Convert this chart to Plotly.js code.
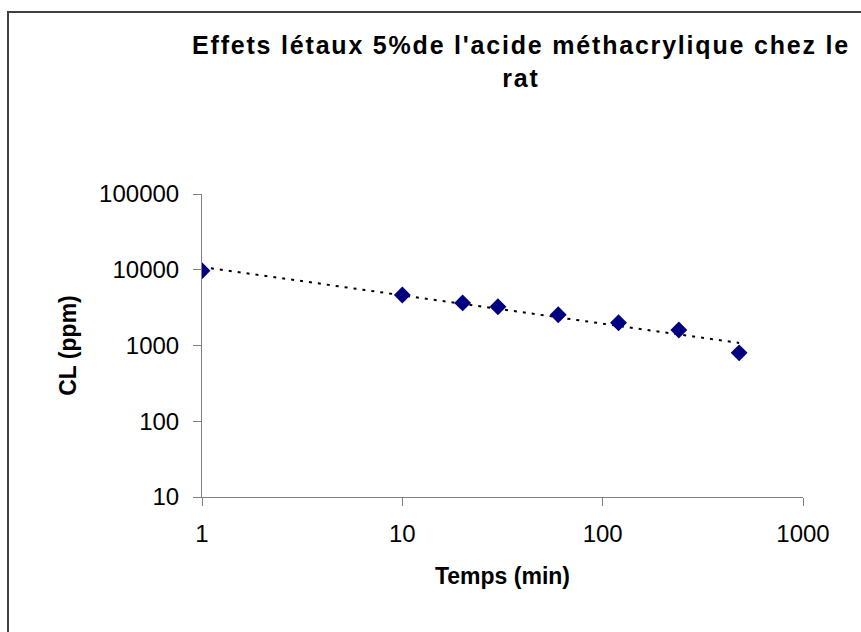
<!DOCTYPE html>
<html>
<head>
<meta charset="utf-8">
<script src="https://cdn.plot.ly/plotly-3.0.1.min.js"></script>
<style>
html,body{margin:0;padding:0;background:#fff;}
#chart{width:861px;height:632px;}
.gtitle{letter-spacing:1.8px;}
</style>
</head>
<body>
<div id="chart"></div>
<script>
// Data
const temps = [1, 10, 20, 30, 60, 120, 240, 480];          // min
const cl = [9700, 4650, 3650, 3250, 2550, 2000, 1600, 800]; // ppm

const xTicks = [1, 10, 100, 1000];
const xTickText = ['1', '10', '100', '1000'];
const yTicks = [10, 100, 1000, 10000, 100000];
const yTickText = ['10', '100', '1000', '10000', '100000'];

// Power trendline (least squares on log-log), as in the spreadsheet chart
const lx = temps.map(v => Math.log10(v));
const ly = cl.map(v => Math.log10(v));
const mx = lx.reduce((a, b) => a + b, 0) / lx.length;
const my = ly.reduce((a, b) => a + b, 0) / ly.length;
let sxy = 0, sxx = 0;
for (let i = 0; i < lx.length; i++) { sxy += (lx[i] - mx) * (ly[i] - my); sxx += (lx[i] - mx) ** 2; }
const slope = sxy / sxx, icpt = my - slope * mx;
const trendX = [], trendY = [];
const x0 = Math.log10(temps[0]), x1 = Math.log10(temps[temps.length - 1]);
for (let k = 0; k <= 60; k++) {
  const lv = x0 + (x1 - x0) * k / 60;
  trendX.push(Math.pow(10, lv));
  trendY.push(Math.pow(10, icpt + slope * lv));
}

const FONT = 'Liberation Sans, Arial, sans-serif';
const L = 202, R = 803, T = 194, B = 497, W = 861, H = 632;
const pw = R - L, ph = B - T;
const px = v => (v - L) / pw;
const py = v => (B - v) / ph;

const traces = [
  {
    x: trendX, y: trendY, type: 'scatter', mode: 'lines',
    line: {color: '#000000', width: 2, dash: '3px,6px'},
    hoverinfo: 'skip', showlegend: false
  },
  {
    x: temps, y: cl, type: 'scatter', mode: 'markers',
    marker: {symbol: 'diamond', size: 13, color: '#000080', line: {width: 0}},
    showlegend: false
  }
];

const layout = {
  width: W, height: H,
  paper_bgcolor: '#ffffff', plot_bgcolor: '#ffffff',
  margin: {l: L, r: W - R, t: T, b: H - B, pad: 0},
  showlegend: false,
  title: {
    text: "Effets létaux 5%de l'acide méthacrylique chez le<br>rat",
    font: {family: FONT, size: 25, color: '#000000', weight: 'bold'},
    x: 521 / W, xanchor: 'center', y: 1 - 54 / H, yanchor: 'top'
  },
  xaxis: {
    type: 'log', range: [0, 3],
    tickmode: 'array', tickvals: xTicks, ticktext: xTickText,
    ticks: 'outside', ticklen: 8, tickcolor: '#808080', tickwidth: 1,
    showline: true, linecolor: '#808080', linewidth: 1,
    showgrid: false, zeroline: false,
    tickfont: {family: FONT, size: 24, color: '#000000'},
    ticklabelstandoff: 7,
    title: {text: 'Temps (min)', font: {family: FONT, size: 23, color: '#000000', weight: 'bold'}, standoff: 22}
  },
  yaxis: {
    type: 'log', range: [1, 5],
    tickmode: 'array', tickvals: yTicks, ticktext: yTickText,
    ticks: 'outside', ticklen: 8, tickcolor: '#808080', tickwidth: 1,
    showline: true, linecolor: '#808080', linewidth: 1,
    showgrid: false, zeroline: false,
    tickfont: {family: FONT, size: 24, color: '#000000'},
    ticklabelstandoff: 9,
    title: {text: 'CL (ppm)', font: {family: FONT, size: 23, color: '#000000', weight: 'bold'}, standoff: 16}
  },
  shapes: [
    {type: 'rect', xref: 'paper', yref: 'paper',
     x0: px(8), x1: px(W + 20), y0: py(H + 20), y1: py(12),
     line: {color: '#404040', width: 2}, fillcolor: 'rgba(0,0,0,0)', layer: 'below'}
  ]
};

Plotly.newPlot('chart', traces, layout, {displayModeBar: false, staticPlot: true});
</script>
</body>
</html>
